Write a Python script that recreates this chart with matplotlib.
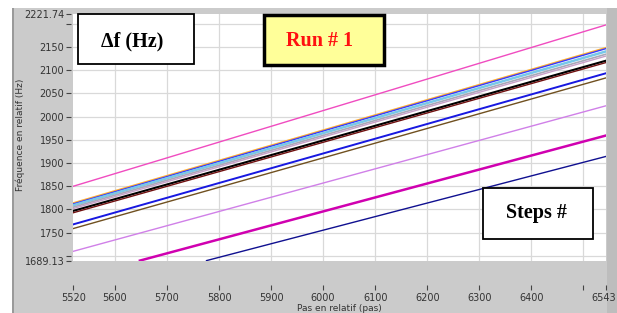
import matplotlib
matplotlib.use('Agg')
import matplotlib.pyplot as plt
import matplotlib.transforms as mtransforms
from matplotlib.patches import Rectangle

# frequency (Hz) vs relative step count, one line per sweep
step_start = [5520, 5520, 5520, 5520, 5520, 5520, 5520, 5520, 5520, 5520, 5520, 5648, 5776]
step_end = [6543] * 13
freq_start = [1850, 1814, 1812, 1809, 1805, 1802, 1797, 1793, 1768, 1759, 1710, 1690, 1690]
freq_end = [2197, 2148, 2146, 2140, 2134, 2130, 2120, 2116, 2093, 2083, 2023, 1959, 1914]
line_colors = ['#f04cc0', '#ffb030', '#3838ff', '#78c8e8', '#a8a8b8', '#c8a0c8',
               '#000000', '#701010', '#1818e0', '#705020', '#d080e8', '#d000b0', '#101090']
line_widths = [1.0, 1.2, 1.0, 1.8, 1.2, 1.0, 1.5, 1.0, 1.4, 1.0, 1.0, 1.8, 1.0]

xticks = [5520, 5600, 5700, 5800, 5900, 6000, 6100, 6200, 6300, 6400, 6500, 6543]
xtick_labels = ['5520', '5600', '5700', '5800', '5900', '6000', '6100', '6200',
                '6300', '6400', '', '6543']
yticks = [1689.13, 1700, 1750, 1800, 1850, 1900, 1950, 2000, 2050, 2100, 2150, 2200, 2221.74]
ytick_labels = ['1689.13', '', '1750', '1800', '1850', '1900', '1950', '2000',
                '2050', '2100', '2150', '', '2221.74']
xgrid = [5600, 5700, 5800, 5900, 6000, 6100, 6200, 6300, 6400, 6500]
ygrid = [1700, 1750, 1800, 1850, 1900, 1950, 2000, 2050, 2100, 2150, 2200]

W, H = 617, 313
fig = plt.figure(figsize=(W / 100, H / 100), dpi=100)
fig.patch.set_facecolor('#cbcbcb')

def px(x, y, w, h):
    # pixel box (top-left origin) -> figure fraction
    return (x / W, 1 - (y + h) / H, w / W, h / H)

def box(x, y, w, h, **kw):
    l, b, ww, hh = px(x, y, w, h)
    r = Rectangle((l, b), ww, hh, transform=fig.transFigure, **kw)
    fig.patches.append(r)
    return r

# screenshot margins, drawn behind the axes
box(0, 0, 12, H, facecolor='white', edgecolor='none', zorder=-5)
box(0, 0, W, 8, facecolor='white', edgecolor='none', zorder=-5)
box(12, 8, 2, H - 8, facecolor='#9a9a9a', edgecolor='none', zorder=-5)
box(607, 8, 10, H - 8, facecolor='#bdbdbd', edgecolor='none', zorder=-5)

ax = fig.add_axes(px(73.3, 13.5, 532.4, 247.5))
ax.set_facecolor('white')

for xv in xgrid:
    ax.axvline(xv, color='#d9d9d9', lw=0.9, zorder=0)
for yv in ygrid:
    ax.axhline(yv, color='#d9d9d9', lw=0.9, zorder=0)

for i in range(len(freq_start)):
    ax.plot([step_start[i], step_end[i]], [freq_start[i], freq_end[i]],
            color=line_colors[i], lw=line_widths[i], zorder=2)

ax.set_xlim(5520, 6543)
ax.set_ylim(1689.13, 2221.74)

for s in ['top', 'right']:
    ax.spines[s].set_visible(False)
ax.spines['left'].set_position(('outward', 1.5))
ax.spines['bottom'].set_position(('outward', 17))
ax.spines['left'].set_color('none')
ax.spines['bottom'].set_color('none')

ax.set_xticks(xticks)
ax.set_xticklabels(xtick_labels)
ax.set_yticks(yticks)
ax.set_yticklabels(ytick_labels)
ax.tick_params(axis='both', colors='#444444', labelcolor='#333333', labelsize=7,
               length=3.5, width=0.8, direction='out')
ax.tick_params(axis='y', pad=1.5)
ax.tick_params(axis='x', pad=2.5)
# last x label nudged left so it stays inside the picture
last = ax.get_xticklabels()[-1]
last.set_transform(last.get_transform() +
                   mtransforms.ScaledTranslation(-2.5 / 100, 0, fig.dpi_scale_trans))

ax.set_xlabel('Pas en relatif (pas)', fontsize=6.5, color='#333333', labelpad=1)
fig.text(20 / W, 1 - 135 / H, 'Fréquence en relatif (Hz)', rotation=90,
         fontsize=6.5, color='#333333', ha='center', va='center')

# annotation boxes
box(77.7, 14, 116.6, 50.3, facecolor='white', edgecolor='black', lw=1.3, zorder=5)
fig.text(132 / W, 1 - 41 / H, 'Δf (Hz)', fontsize=14.5, fontweight='bold',
         family='Liberation Serif', ha='center', va='center', zorder=6)

box(264, 15, 120, 50, facecolor='#ffff99', edgecolor='black', lw=2.5, zorder=5)
fig.text(320 / W, 1 - 41 / H, 'Run # 1', fontsize=14.5, fontweight='bold',
         family='Liberation Serif', color='#ff1010', ha='center', va='center', zorder=6)

box(483.3, 188.3, 110, 51, facecolor='white', edgecolor='black', lw=1.3, zorder=5)
fig.text(536 / W, 1 - 213 / H, 'Steps #', fontsize=14.5, fontweight='bold',
         family='Liberation Serif', ha='center', va='center', zorder=6)

fig.savefig('out.png', dpi=100, facecolor=fig.get_facecolor())
